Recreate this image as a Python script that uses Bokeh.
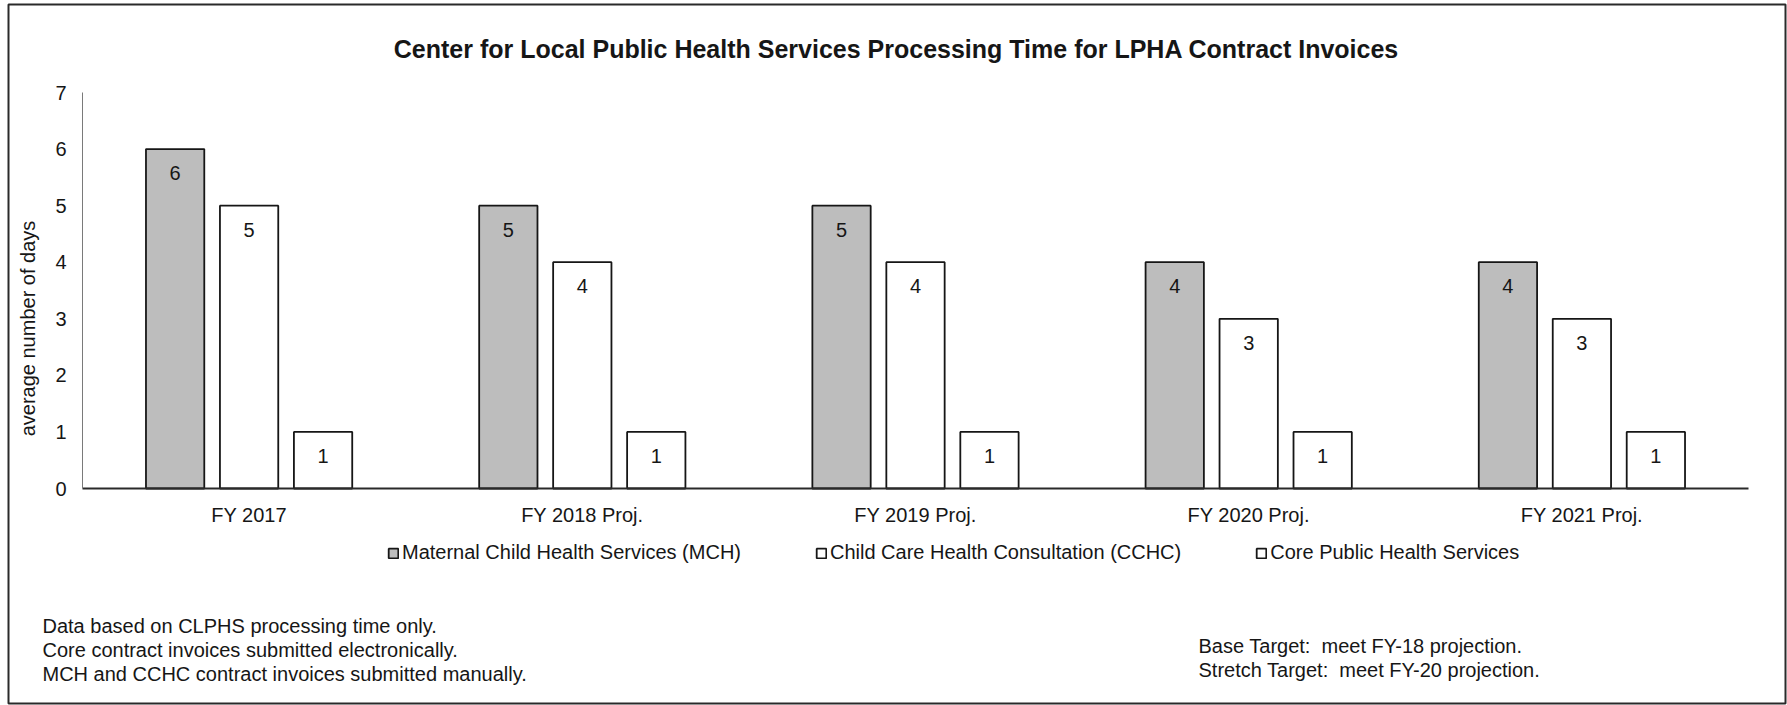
from bokeh.plotting import figure
from bokeh.models import (ColumnDataSource, FixedTicker, Legend, LegendItem, Label,
                          BoxAnnotation, Range1d)
from bokeh.transform import dodge
from bokeh.core.properties import value
from bokeh.embed import file_html
from bokeh.resources import INLINE
import math

# Processing time (average number of days) per fiscal year
categories = ["FY 2017", "FY 2018 Proj.", "FY 2019 Proj.", "FY 2020 Proj.", "FY 2021 Proj."]
mch_days = [6, 5, 5, 4, 4]
cchc_days = [5, 4, 4, 3, 3]
core_days = [1, 1, 1, 1, 1]

series_names = ["Maternal Child Health Services (MCH)",
                "Child Care Health Consultation (CCHC)",
                "Core Public Health Services"]
y_ticks = [0, 1, 2, 3, 4, 5, 6, 7]

title_text = "Center for Local Public Health Services Processing Time for LPHA Contract Invoices"
y_title = "average number of days"
notes_left = ["Data based on CLPHS processing time only.",
              "Core contract invoices submitted electronically.",
              "MCH and CCHC contract invoices submitted manually."]
# a no-break space keeps the wide gap after the colon in SVG text
notes_right = ["Base Target:\u00a0 meet FY-18 projection.",
               "Stretch Target:\u00a0 meet FY-20 projection."]

FONT = "Liberation Sans"
INK = "#161616"

W, H = 1787, 705
# pixel box of the bar area inside the canvas
AL, AR, AT, AB = 82, 1748, 92, 488
n_cat = len(categories)
y_max = 7
ux = (AR - AL) / n_cat          # pixels per category
uy = (AB - AT) / y_max          # pixels per day


def dx(px):
    """canvas pixel column -> data x"""
    return -0.5 + (px - AL) / ux


def dy(py):
    """canvas pixel row -> data y"""
    return (AB - py) / uy


source = ColumnDataSource(data=dict(
    idx=list(range(n_cat)),
    mch=mch_days, cchc=cchc_days, core=core_days,
    mch_txt=[str(v) for v in mch_days],
    cchc_txt=[str(v) for v in cchc_days],
    core_txt=[str(v) for v in core_days],
))

p = figure(width=W, height=H, x_range=Range1d(dx(0), dx(W)), y_range=Range1d(dy(H), dy(0)),
           output_backend="svg", toolbar_location=None, min_border=0)
p.outline_line_color = None
p.xgrid.grid_line_color = None
p.ygrid.grid_line_color = None
p.background_fill_color = "white"
p.border_fill_color = "white"

bar_w = 0.175
step = 0.222
specs = [("mch", -step, "#bdbdbd"), ("cchc", 0.0, "white"), ("core", step, "white")]
renderers = []
for key, off, fill in specs:
    r = p.vbar(x=dodge("idx", off), top=key, width=bar_w, source=source,
               fill_color=fill, line_color=INK, line_width=1.8)
    renderers.append(r)
    p.text(x=dodge("idx", off), y=key, text=key + "_txt", source=source,
           text_align="center", text_baseline="middle", y_offset=24,
           text_font=value(FONT), text_font_size="20px", text_color=INK)

# axes drawn at fixed data locations inside the canvas
yax = p.yaxis[0]
yax.fixed_location = -0.5
yax.bounds = (0, y_max)
yax.ticker = FixedTicker(ticks=y_ticks)
yax.major_tick_line_color = None
yax.minor_tick_line_color = None
yax.major_tick_out = 0
yax.major_tick_in = 0
yax.minor_tick_out = 0
yax.axis_line_color = "#7a7a7a"
yax.axis_line_width = 1
yax.major_label_standoff = 16
yax.major_label_text_font = FONT
yax.major_label_text_font_size = "20px"
yax.major_label_text_color = INK

xax = p.xaxis[0]
xax.fixed_location = 0
xax.bounds = (-0.5, n_cat - 0.5)
xax.ticker = FixedTicker(ticks=list(range(n_cat)))
xax.major_label_overrides = {i: c for i, c in enumerate(categories)}
xax.major_tick_line_color = None
xax.minor_tick_line_color = None
xax.major_tick_out = 0
xax.major_tick_in = 0
xax.minor_tick_out = 0
xax.axis_line_color = "#2a2a2a"
xax.axis_line_width = 2
xax.major_label_standoff = 15
xax.major_label_text_font = FONT
xax.major_label_text_font_size = "20px"
xax.major_label_text_color = INK

# title
p.add_layout(Label(x=dx(896), y=dy(48), text=title_text,
                   text_align="center", text_baseline="alphabetic", text_font=FONT,
                   text_font_size="25px", text_font_style="bold", text_color=INK))

# y-axis title
p.add_layout(Label(x=dx(27), y=dy(328), text=y_title, angle=math.pi / 2,
                   text_align="center", text_baseline="middle", text_font=FONT,
                   text_font_size="20px", text_color=INK))

# legend
legend = Legend(items=[LegendItem(label=n, renderers=[r]) for n, r in zip(series_names, renderers)],
                location=(387, H - 564), orientation="horizontal",
                glyph_width=12, glyph_height=12, label_standoff=3, spacing=74,
                padding=0, margin=0, border_line_alpha=0, background_fill_alpha=0,
                label_text_font=FONT, label_text_font_size="20px", label_text_color=INK)
p.add_layout(legend)

# footnotes
for i, line in enumerate(notes_left):
    p.add_layout(Label(x=dx(42), y=dy(625 + 24 * i), text=line,
                       text_align="left", text_baseline="alphabetic",
                       text_font=FONT, text_font_size="20px", text_color=INK))
for i, line in enumerate(notes_right):
    p.add_layout(Label(x=dx(1198), y=dy(645 + 24 * i), text=line,
                       text_align="left", text_baseline="alphabetic",
                       text_font=FONT, text_font_size="20px", text_color=INK))

# outer frame around the whole chart
p.add_layout(BoxAnnotation(left=dx(8), right=dx(1785), top=dy(4), bottom=dy(703),
                           fill_alpha=0, line_color="#2a2a2a", line_alpha=1.0, line_width=2))

open("out.html", "w").write(file_html(p, INLINE))
